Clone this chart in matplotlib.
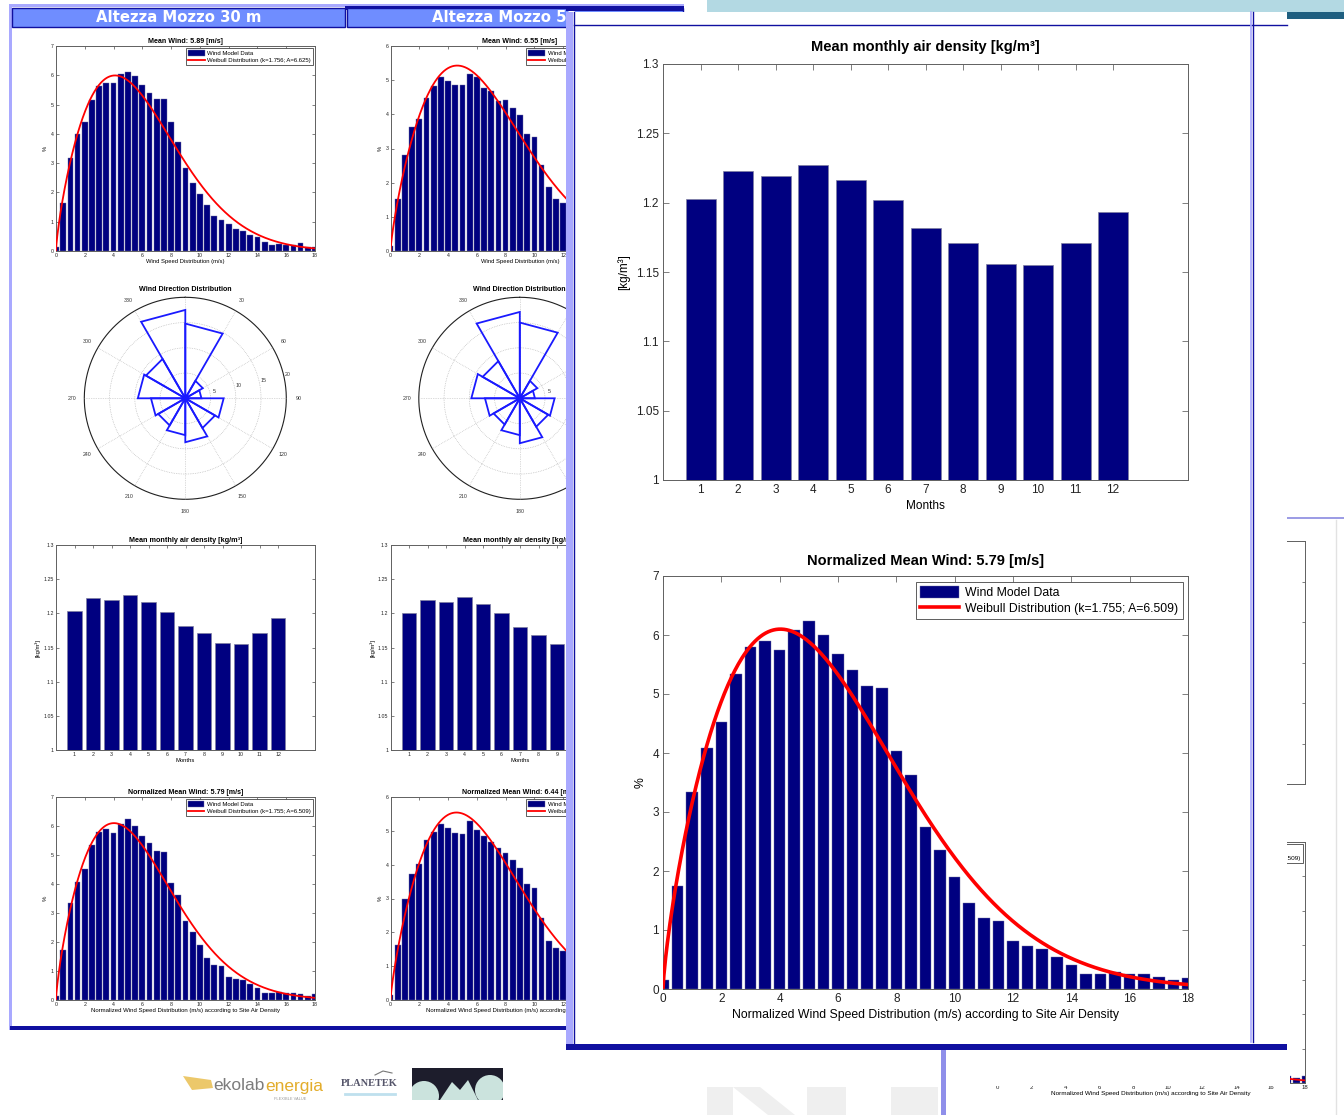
import numpy as np
import matplotlib
matplotlib.use("Agg")
import matplotlib.pyplot as plt
from matplotlib.patches import Rectangle, Polygon, Circle

W, H = 1344, 1115
plt.rcParams['font.family'] = ['Liberation Sans', 'DejaVu Sans']

# ---------------- data ----------------
months = [1, 2, 3, 4, 5, 6, 7, 8, 9, 10, 11, 12]
density_ticks = [1.0, 1.05, 1.1, 1.15, 1.2, 1.25, 1.3]
density_30m = [1.203, 1.223, 1.219, 1.227, 1.216, 1.202, 1.182, 1.171, 1.156, 1.155, 1.171, 1.193]
density_50m = [1.200, 1.220, 1.216, 1.224, 1.213, 1.200, 1.180, 1.168, 1.155]   # months hidden behind overlay omitted

speed_centres = [0, 0.5, 1, 1.5, 2, 2.5, 3, 3.5, 4, 4.5, 5, 5.5, 6, 6.5, 7, 7.5, 8, 8.5, 9,
                 9.5, 10, 10.5, 11, 11.5, 12, 12.5, 13, 13.5, 14, 14.5, 15, 15.5, 16, 16.5,
                 17, 17.5, 18]
wind_30m = [0.14, 1.64, 3.19, 3.98, 4.40, 5.15, 5.63, 5.75, 5.72, 6.05, 6.12, 5.97, 5.66,
            5.40, 5.18, 5.18, 4.40, 3.72, 2.84, 2.33, 1.96, 1.57, 1.19, 1.05, 0.91, 0.76,
            0.67, 0.56, 0.48, 0.31, 0.22, 0.24, 0.22, 0.22, 0.26, 0.14, 0.14]
wind_30m_norm = [0.15, 1.74, 3.34, 4.08, 4.53, 5.34, 5.79, 5.90, 5.75, 6.08, 6.24, 6.00, 5.67,
                 5.41, 5.13, 5.10, 4.03, 3.62, 2.74, 2.36, 1.90, 1.45, 1.20, 1.16, 0.81, 0.73,
                 0.68, 0.55, 0.40, 0.25, 0.25, 0.28, 0.25, 0.25, 0.20, 0.15, 0.19]
wind_50m = [0.15, 1.53, 2.82, 3.62, 3.87, 4.49, 4.84, 5.10, 4.98, 4.86, 4.86, 5.17, 5.08,
            4.77, 4.67, 4.40, 4.42, 4.20, 3.99, 3.42, 3.35, 2.52, 1.87, 1.51, 1.40]
wind_50m_norm = [0.16, 1.64, 2.99, 3.71, 4.02, 4.72, 4.97, 5.21, 5.08, 4.94, 4.91, 5.28, 5.02,
                 4.84, 4.67, 4.48, 4.35, 4.13, 3.89, 3.42, 3.30, 2.43, 1.73, 1.55, 1.46]

weibull_30m = (1.756, 6.625)
weibull_30m_norm = (1.755, 6.509)
weibull_50m = (1.78, 7.37)
weibull_50m_norm = (1.79, 7.24)

rose_sectors = [0, 30, 60, 90, 120, 150, 180, 210, 240, 270, 300, 330]
rose_30m = [14.8, 4.0, 3.2, 7.6, 6.8, 8.7, 7.3, 6.2, 6.8, 9.4, 9.0, 17.5]
rose_50m = [15.0, 4.0, 3.0, 6.9, 6.5, 8.9, 7.3, 6.0, 6.9, 9.6, 8.5, 17.1]
rose_rings = [5, 10, 15, 20]

NAVY = '#000080'
LAV = '#a9a9ff'
DBLUE = '#1010a0'
GREYAX = '#606060'

fig = plt.figure(figsize=(W / 100, H / 100), dpi=100)


def px_axes(x0, y0, x1, y1, z):
    ax = fig.add_axes([x0 / W, 1 - y1 / H, (x1 - x0) / W, (y1 - y0) / H])
    ax.set_zorder(z)
    return ax


def deco(z):
    ax = px_axes(0, 0, W, H, z)
    ax.set_xlim(0, W)
    ax.set_ylim(H, 0)
    ax.axis('off')
    ax.patch.set_alpha(0)
    return ax


def rect(ax, x0, y0, x1, y1, **kw):
    ax.add_patch(Rectangle((x0, y0), x1 - x0, y1 - y0, **kw))


def style(ax, fs, tl, pad, lw=0.7):
    ax.tick_params(direction='in', top=True, right=True, labelsize=fs, length=tl,
                   width=lw * 0.8, color=GREYAX, labelcolor='#222222', pad=pad)
    for s in ax.spines.values():
        s.set_color(GREYAX)
        s.set_linewidth(lw)


def weibull_curve(k, A):
    xx = np.linspace(0.0005, 18, 600)
    return xx, 50 * (k / A) * (xx / A) ** (k - 1) * np.exp(-(xx / A) ** k)


def draw_hist(ax, values, wb, ymax, fs, tfs, lfs, legfs, lw, tl, title, xlabel, tpad, legpad,
              tickpad=1.5, labpad=1, hlen=3.2):
    bars = ax.bar(speed_centres[:len(values)], values, width=0.4, color=NAVY,
                  edgecolor='#7070a0', linewidth=0.3, zorder=2)
    k, A = wb
    xx, yy = weibull_curve(k, A)
    line, = ax.plot(xx, yy, color='#ff0000', lw=lw, zorder=3)
    ax.set_xlim(0, 18)
    ax.set_ylim(0, ymax)
    ax.set_xticks(list(range(0, 19, 2)))
    ax.set_yticks(list(range(0, ymax + 1)))
    style(ax, fs, tl, tickpad)
    if title:
        ax.set_title(title, fontsize=tfs, fontweight='bold', pad=tpad)
    ax.set_xlabel(xlabel, fontsize=lfs, labelpad=labpad)
    ax.set_ylabel('%', fontsize=lfs, labelpad=labpad + 1)
    leg = ax.legend([bars, line], ['Wind Model Data', f'Weibull Distribution (k={k}; A={A})'],
                    loc='upper right', fontsize=legfs, fancybox=False, framealpha=1,
                    edgecolor='#444444', borderaxespad=legpad, handlelength=hlen,
                    handleheight=1.1, borderpad=0.35, labelspacing=0.25, handletextpad=0.5)
    leg.get_frame().set_linewidth(0.6)
    return ax


def draw_density(ax, values, fs, tfs, lfs, tl, tpad, tickpad=1.5, labpad=1):
    ax.bar(months[:len(values)], values, width=0.8, color=NAVY, edgecolor='#8080a0',
           linewidth=0.5, zorder=2)
    ax.set_xlim(0, 14)
    ax.set_ylim(1, 1.3)
    ax.set_xticks(months)
    ax.set_yticks(density_ticks)
    ax.set_yticklabels([f'{v:g}' for v in density_ticks])
    style(ax, fs, tl, tickpad)
    ax.set_title('Mean monthly air density [kg/m³]', fontsize=tfs, fontweight='bold', pad=tpad)
    ax.set_xlabel('Months', fontsize=lfs, labelpad=labpad)
    ax.set_ylabel('[kg/m³]', fontsize=lfs, labelpad=labpad + 1)


def draw_rose(cx, cy, rpx, radii, z):
    half = 140
    ax = px_axes(cx - half, cy - half, cx + half, cy + half, z)
    L = half / rpx * 20
    ax.set_xlim(-L, L)
    ax.set_ylim(-L, L)
    ax.axis('off')
    t = np.linspace(0, 2 * np.pi, 400)
    for r in rose_rings[:-1]:
        ax.plot(r * np.sin(t), r * np.cos(t), color='#b0b0b0', lw=0.5, ls=(0, (1, 1.5)))
    ax.plot(20 * np.sin(t), 20 * np.cos(t), color='#202020', lw=0.8)
    for a in range(0, 360, 30):
        ar = np.radians(a)
        ax.plot([0, 20 * np.sin(ar)], [0, 20 * np.cos(ar)], color='#b8b8b8', lw=0.5,
                ls=(0, (1, 1.5)))
        if a:
            ax.text(22.4 * np.sin(ar), 22.4 * np.cos(ar), str(a), fontsize=3.8,
                    ha='center', va='center', color='#333333')
    ra = np.radians(77)
    for r in rose_rings:
        ax.text((r + 0.9) * np.sin(ra), (r + 0.9) * np.cos(ra), str(r), fontsize=3.8,
                ha='center', va='center', color='#333333')
    for a, r in zip(rose_sectors, radii):
        t1, t2 = np.radians(a), np.radians(a + 30)
        ax.plot([0, r * np.sin(t1), r * np.sin(t2), 0], [0, r * np.cos(t1), r * np.cos(t2), 0],
                color='#1a1aff', lw=1.3, solid_joinstyle='miter')
    ax.text(0, 109 / rpx * 20, 'Wind Direction Distribution', fontsize=5.1,
            fontweight='bold', ha='center', va='center')
    return ax


# ---------------- background slide pieces ----------------
d0 = deco(0)
rect(d0, 707, 0, W, 12, color='#b3d9e3', lw=0)
rect(d0, 1287, 12, W, 19, color='#1f5f80', lw=0)
d0.plot([1287, W], [518, 518], color='#8a8ae0', lw=1.2)
d0.plot([1336, 1336], [520, H], color='#e2e2e2', lw=1.0)

bgd = px_axes(1000, 541, 1305, 784, 0.5)
draw_density(bgd, density_30m, 3.5, 4, 3.5, 2, 3)

bgh = px_axes(997, 842, 1305, 1083, 0.5)
draw_hist(bgh, wind_30m_norm, weibull_30m_norm, 7, 4.3, 5, 4.6, 4.6, 1.3, 2,
          'Normalized Mean Wind: 5.79 [m/s]',
          'Normalized Wind Speed Distribution (m/s) according to Site Air Density', 3, 0.35)

d1 = deco(0.8)
rect(d1, 946, 1050, 1290, 1086, color='white', lw=0)
for poly in ([(707, 1087), (733, 1087), (733, H), (707, H)],
             [(733, 1087), (760, 1087), (795, H), (768, H)],
             [(807, 1087), (846, 1087), (846, H), (807, H)],
             [(891, 1087), (938, 1087), (938, H), (891, H)]):
    d1.add_patch(Polygon(poly, closed=True, color='#efefef', lw=0))
rect(d1, 941, 1050, 946, H, color='#8f8fea', lw=0)

# ---------------- left slide ----------------
d2 = deco(0.9)
rect(d2, 9, 4, 684, 7, color=LAV, lw=0)
rect(d2, 9, 4, 12, 1030, color=LAV, lw=0)
rect(d2, 345, 6, 684, 10, color=DBLUE, lw=0)
rect(d2, 10, 1026, 570, 1030, color=DBLUE, lw=0)
for x0, x1, txt in ((12, 345, 'Altezza Mozzo 30 m'), (347, 683, 'Altezza Mozzo 50 m')):
    rect(d2, x0, 8, x1, 27, facecolor='#6f8dff', edgecolor=DBLUE, lw=1.0)
    d2.text((x0 + x1) / 2, 17.5, txt, fontsize=10.7, fontweight='bold', color='white',
            ha='center', va='center', family=['DejaVu Sans'])

# logos
d2.add_patch(Polygon([(183, 1076), (211, 1080), (213, 1088), (192, 1090)], closed=True,
                     color='#ecc86a', lw=0))
d2.text(265, 1086, 'ekolab', fontsize=12.5, color='#7c7c7c', ha='right', va='center')
d2.text(265, 1086, 'energia', fontsize=12.5, color='#e3ad2c', ha='left', va='center')
d2.text(290, 1099, 'FLEXIBLE VALUE', fontsize=2.8, color='#999999', ha='center', va='center')
d2.text(369, 1084, 'PLANETEK', fontsize=7.5, color='#55556a', ha='center', va='center',
        family=['Liberation Serif'], fontweight='bold')
d2.plot([345, 395], [1094, 1094], color='#bfe0ee', lw=2)
d2.plot([375, 383, 392], [1075, 1071, 1073], color='#777777', lw=0.8)
box = Rectangle((412, 1068), 91, 32, color='#1d1d2c', lw=0)
d2.add_patch(box)
for shp in (Circle((424, 1096), 15), Circle((490, 1090), 15),
            Polygon([(440, 1100), (452, 1082), (460, 1090), (468, 1080), (478, 1100)], closed=True)):
    shp.set_color('#cbe3dd')
    shp.set_linewidth(0)
    d2.add_patch(shp)
    shp.set_clip_path(box)

dxs = [0, 334.5]
hist_top = [wind_30m, wind_50m]
hist_bot = [wind_30m_norm, wind_50m_norm]
wb_top = [weibull_30m, weibull_50m]
wb_bot = [weibull_30m_norm, weibull_50m_norm]
tops = [7, 6]
mean_top = ['Mean Wind: 5.89 [m/s]', 'Mean Wind: 6.55 [m/s]']
mean_bot = ['Normalized Mean Wind: 5.79 [m/s]', 'Normalized Mean Wind: 6.44 [m/s]']
roses = [rose_30m, rose_50m]
dens = [density_30m, density_50m]

covered_axes = [bgd, bgh]
for i, dx in enumerate(dxs):
    a1 = px_axes(56 + dx, 46, 315 + dx, 251, 1)
    draw_hist(a1, hist_top[i], wb_top[i], tops[i], 3.8, 5.1, 4.2, 4.3, 1.3, 2,
              mean_top[i], 'Wind Speed Distribution (m/s)', 2.5, 0.3, hlen=2.8)
    a2 = draw_rose(185.3 + dx, 398.3, 101, roses[i], 1)
    a3 = px_axes(56 + dx, 545, 315 + dx, 750, 1)
    draw_density(a3, dens[i], 3.8, 5.2, 4.2, 2, 2.5)
    a4 = px_axes(56 + dx, 797, 315 + dx, 1000, 1)
    draw_hist(a4, hist_bot[i], wb_bot[i], tops[i], 3.8, 5.1, 4.3, 4.3, 1.3, 2,
              mean_bot[i], 'Normalized Wind Speed Distribution (m/s) according to Site Air Density',
              2.5, 0.3, hlen=2.8)
    if i == 1:
        covered_axes += [a1, a2, a3, a4]

# ---------------- overlay slide ----------------
d3 = deco(2)
rect(d3, 566, 12, 1287, 1050, color='white', lw=0)
rect(d3, 566, 6, 684, 11, color=DBLUE, lw=0)
rect(d3, 566, 12, 573, 1050, color=LAV, lw=0)
d3.plot([574, 574], [12, 1045], color=DBLUE, lw=1.0)
d3.plot([574, 1287], [25, 25], color=DBLUE, lw=1.0)
d3.plot([1251, 1251], [12, 1042], color=LAV, lw=1.2)
d3.plot([1253, 1253], [12, 1042], color=DBLUE, lw=1.0)
rect(d3, 566, 1044, 1287, 1050, color=DBLUE, lw=0)

ad = px_axes(663, 64, 1188, 480, 3)
draw_density(ad, density_30m, 8.5, 10.5, 8.5, 4, 9, tickpad=3, labpad=3)

ah = px_axes(663, 576, 1188, 989, 3)
draw_hist(ah, wind_30m_norm, weibull_30m_norm, 7, 8.5, 10.5, 8.85, 8.8, 2.6, 4,
          'Normalized Mean Wind: 5.79 [m/s]',
          'Normalized Wind Speed Distribution (m/s) according to Site Air Density', 8, 0.45,
          tickpad=3, labpad=3)

# hide texts that lie entirely under the overlay slide (they are invisible anyway)
fig.canvas.draw()
renderer = fig.canvas.get_renderer()
ox0, ox1 = 566, 1287
oy0, oy1 = H - 1050, H - 12
for ax in covered_axes:
    texts = list(ax.get_xticklabels()) + list(ax.get_yticklabels()) + list(ax.texts)
    texts += [ax.title, ax.xaxis.label, ax.yaxis.label]
    leg = ax.get_legend()
    if leg is not None:
        texts += list(leg.get_texts())
    for t in texts:
        if not t.get_visible() or not t.get_text():
            continue
        bb = t.get_window_extent(renderer)
        if bb.x0 >= ox0 and bb.x1 <= ox1 and bb.y0 >= oy0 and bb.y1 <= oy1:
            t.set_visible(False)

fig.savefig('out.png', dpi=100)
